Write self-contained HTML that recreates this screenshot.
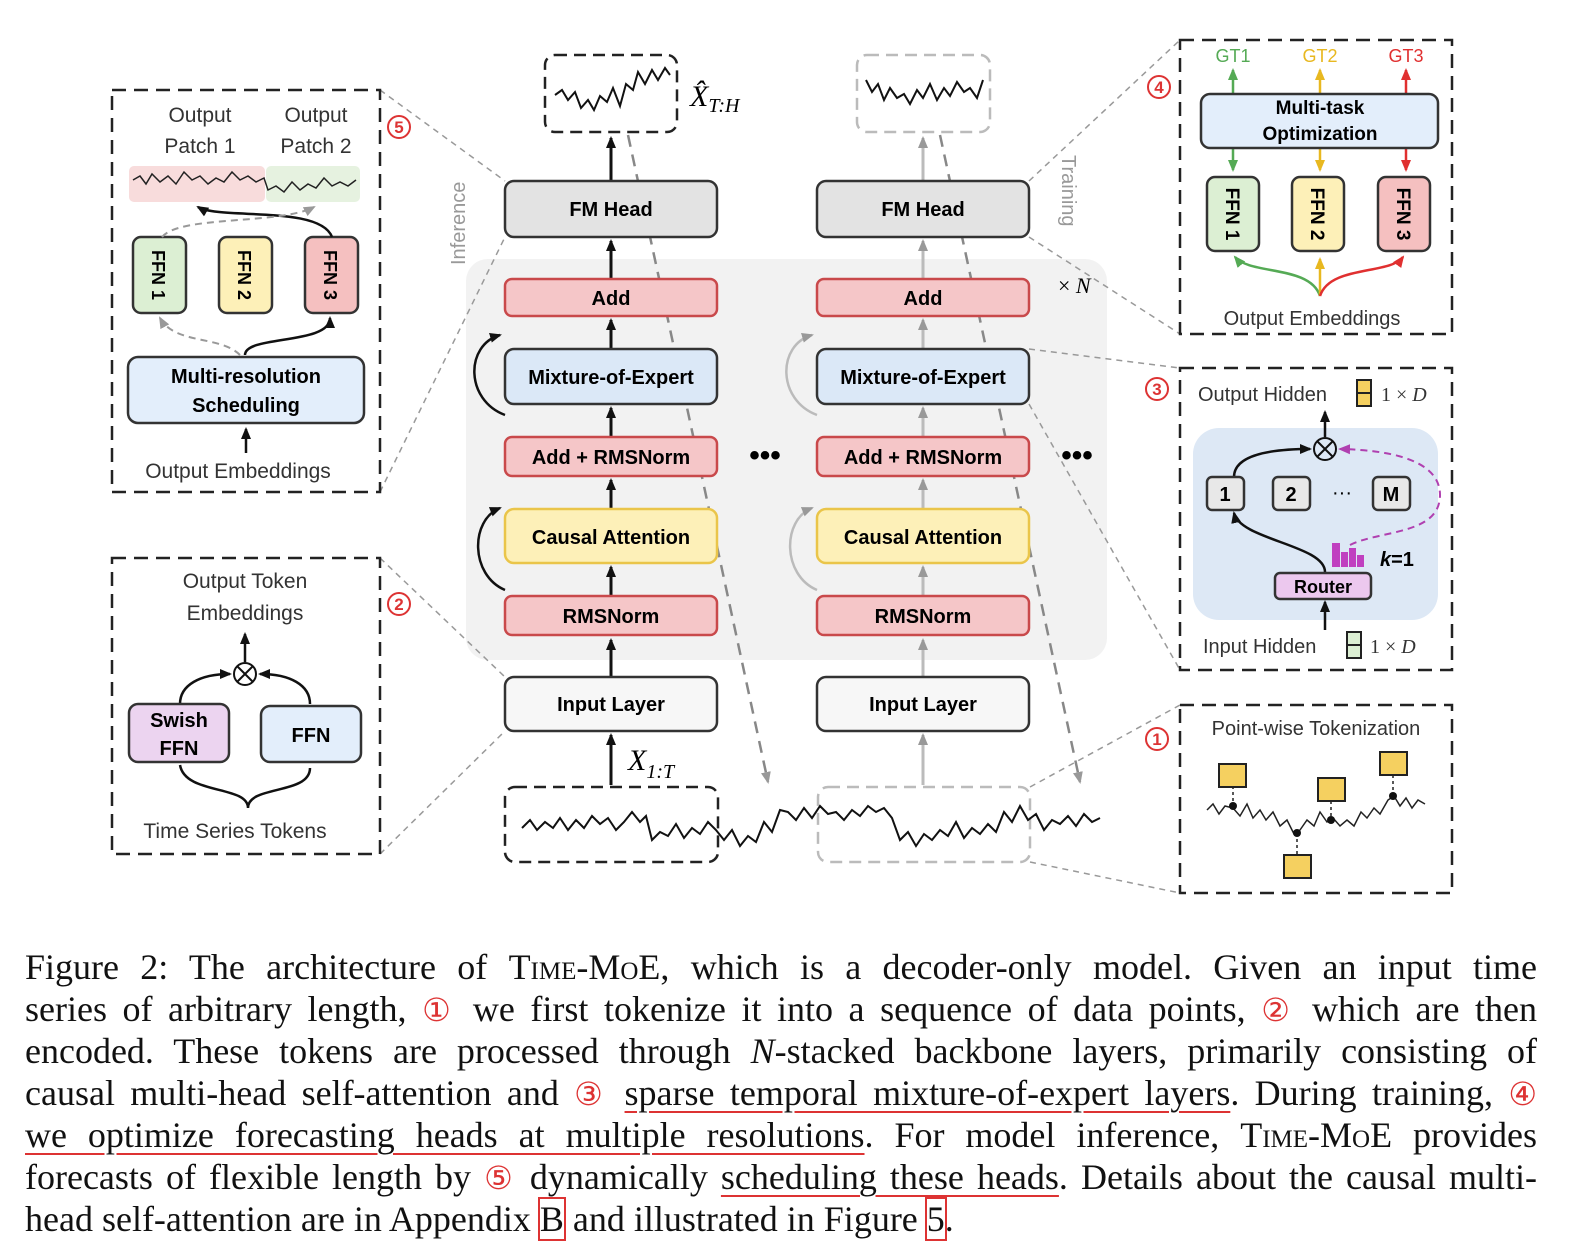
<!DOCTYPE html>
<html><head><meta charset="utf-8"><style>
body{margin:0;width:1580px;height:1245px;background:#fff;overflow:hidden;position:relative}
svg{position:absolute;left:0;top:0}
.cap{position:absolute;left:25px;width:1512px;font-family:"Liberation Serif",serif;font-size:36px;color:#111;white-space:nowrap}
.ln{height:42px;line-height:42px;text-align:justify;text-align-last:justify;white-space:normal;overflow:visible}
.ln.last{text-align-last:left}
.sc{font-variant:small-caps}
.u{text-decoration:underline;text-decoration-color:#d33;text-decoration-thickness:2px;text-underline-offset:6px}
.c{color:#d33;font-size:32px}
.bx{outline:2px solid #d33}
</style></head><body>
<svg width="1580" height="930" viewBox="0 0 1580 930" font-family="Liberation Sans, DejaVu Sans, sans-serif">
<defs>
<marker id="ak" markerUnits="userSpaceOnUse" markerWidth="12" markerHeight="12" refX="10" refY="6" orient="auto"><path d="M0,1 L12,6 L0,11 z" fill="#111"/></marker>
<marker id="ag" markerUnits="userSpaceOnUse" markerWidth="12" markerHeight="12" refX="10" refY="6" orient="auto"><path d="M0,1 L12,6 L0,11 z" fill="#999"/></marker>
<marker id="ap" markerUnits="userSpaceOnUse" markerWidth="12" markerHeight="12" refX="10" refY="6" orient="auto"><path d="M0,1 L12,6 L0,11 z" fill="#b040b0"/></marker>
<marker id="agr" markerUnits="userSpaceOnUse" markerWidth="12" markerHeight="12" refX="10" refY="6" orient="auto"><path d="M0,1 L12,6 L0,11 z" fill="#5a5"/></marker>
<marker id="ay" markerUnits="userSpaceOnUse" markerWidth="12" markerHeight="12" refX="10" refY="6" orient="auto"><path d="M0,1 L12,6 L0,11 z" fill="#e8b820"/></marker>
<marker id="ar" markerUnits="userSpaceOnUse" markerWidth="12" markerHeight="12" refX="10" refY="6" orient="auto"><path d="M0,1 L12,6 L0,11 z" fill="#e03030"/></marker>
</defs>
<rect x="466" y="259" width="641" height="401" rx="22" fill="#f2f2f2"/>
<g stroke="#999" stroke-width="1.5" stroke-dasharray="6,5" fill="none">
<line x1="380" y1="90" x2="505" y2="181"/><line x1="380" y1="492" x2="505" y2="237"/>
<line x1="380" y1="558" x2="505" y2="677"/><line x1="380" y1="854" x2="505" y2="731"/>
<line x1="1029" y1="181" x2="1180" y2="40"/><line x1="1029" y1="237" x2="1180" y2="334"/>
<line x1="1029" y1="349" x2="1180" y2="368"/><line x1="1029" y1="404" x2="1180" y2="670"/>
<line x1="1030" y1="787" x2="1180" y2="705"/><line x1="1030" y1="862" x2="1180" y2="893"/>
</g>
<g stroke="#888" stroke-width="2.5" stroke-dasharray="12,8" fill="none">
<line x1="628" y1="135" x2="768" y2="782" marker-end="url(#ag)"/>
<line x1="940" y1="135" x2="1080" y2="782" marker-end="url(#ag)"/>
</g>
<text x="465" y="265" transform="rotate(-90 465 265)" font-size="20" fill="#999">Inference</text>
<text x="1062" y="155" transform="rotate(90 1062 155)" font-size="20" fill="#999">Training</text>
<g stroke="#111" stroke-width="3" marker-end="url(#ak)">
<line x1="611" y1="785" x2="611" y2="735"/><line x1="611" y1="677" x2="611" y2="640"/>
<line x1="611" y1="596" x2="611" y2="567"/><line x1="611" y1="509" x2="611" y2="480"/>
<line x1="611" y1="437" x2="611" y2="408"/><line x1="611" y1="349" x2="611" y2="320"/>
<line x1="611" y1="279" x2="611" y2="241"/><line x1="611" y1="181" x2="611" y2="138"/>
</g>
<g stroke="#bbb" stroke-width="3" marker-end="url(#ag)">
<line x1="923" y1="785" x2="923" y2="735"/><line x1="923" y1="677" x2="923" y2="640"/>
<line x1="923" y1="596" x2="923" y2="567"/><line x1="923" y1="509" x2="923" y2="480"/>
<line x1="923" y1="437" x2="923" y2="408"/><line x1="923" y1="349" x2="923" y2="320"/>
<line x1="923" y1="279" x2="923" y2="241"/><line x1="923" y1="181" x2="923" y2="138"/>
</g>
<path d="M505,590 C470,575 470,520 500,508" stroke="#111" stroke-width="2.5" fill="none" marker-end="url(#ak)"/>
<path d="M505,415 C465,400 465,345 500,335" stroke="#111" stroke-width="2.5" fill="none" marker-end="url(#ak)"/>
<path d="M817,590 C782,575 782,520 812,508" stroke="#bbb" stroke-width="2.5" fill="none" marker-end="url(#ag)"/>
<path d="M817,415 C777,400 777,345 812,335" stroke="#bbb" stroke-width="2.5" fill="none" marker-end="url(#ag)"/>
<g stroke-width="2.5" font-weight="bold" font-size="20" text-anchor="middle">
<rect x="505" y="181" width="212" height="56" rx="9" fill="#e3e3e3" stroke="#333"/><text x="611" y="216">FM Head</text>
<rect x="505" y="279" width="212" height="37" rx="7" fill="#f5c6c8" stroke="#c9494b"/><text x="611" y="305">Add</text>
<rect x="505" y="349" width="212" height="55" rx="9" fill="#dbe8f7" stroke="#333"/><text x="611" y="384">Mixture-of-Expert</text>
<rect x="505" y="437" width="212" height="39" rx="7" fill="#f5c6c8" stroke="#c9494b"/><text x="611" y="464">Add + RMSNorm</text>
<rect x="505" y="509" width="212" height="54" rx="9" fill="#fdf0b8" stroke="#eac54a"/><text x="611" y="544">Causal Attention</text>
<rect x="505" y="596" width="212" height="39" rx="7" fill="#f5c6c8" stroke="#c9494b"/><text x="611" y="623">RMSNorm</text>
<rect x="505" y="677" width="212" height="54" rx="9" fill="#f7f7f7" stroke="#333"/><text x="611" y="711">Input Layer</text>
<rect x="817" y="181" width="212" height="56" rx="9" fill="#e3e3e3" stroke="#333"/><text x="923" y="216">FM Head</text>
<rect x="817" y="279" width="212" height="37" rx="7" fill="#f5c6c8" stroke="#c9494b"/><text x="923" y="305">Add</text>
<rect x="817" y="349" width="212" height="55" rx="9" fill="#dbe8f7" stroke="#333"/><text x="923" y="384">Mixture-of-Expert</text>
<rect x="817" y="437" width="212" height="39" rx="7" fill="#f5c6c8" stroke="#c9494b"/><text x="923" y="464">Add + RMSNorm</text>
<rect x="817" y="509" width="212" height="54" rx="9" fill="#fdf0b8" stroke="#eac54a"/><text x="923" y="544">Causal Attention</text>
<rect x="817" y="596" width="212" height="39" rx="7" fill="#f5c6c8" stroke="#c9494b"/><text x="923" y="623">RMSNorm</text>
<rect x="817" y="677" width="212" height="54" rx="9" fill="#f7f7f7" stroke="#333"/><text x="923" y="711">Input Layer</text>
</g>
<text x="765" y="465" font-size="30" font-weight="bold" text-anchor="middle">•••</text>
<text x="1077" y="465" font-size="30" font-weight="bold" text-anchor="middle">•••</text>
<text x="1058" y="293" font-size="22" font-family="Liberation Serif">× <tspan font-style="italic">N</tspan></text>
<rect x="545" y="55" width="132" height="77" rx="10" fill="none" stroke="#222" stroke-width="2.5" stroke-dasharray="12,7"/>
<rect x="857" y="55" width="133" height="77" rx="10" fill="none" stroke="#bbb" stroke-width="2.5" stroke-dasharray="12,7"/>
<rect x="505" y="787" width="213" height="75" rx="10" fill="none" stroke="#222" stroke-width="2.5" stroke-dasharray="12,7"/>
<rect x="818" y="787" width="212" height="75" rx="10" fill="none" stroke="#bbb" stroke-width="2.5" stroke-dasharray="12,7"/>
<g stroke="#111" stroke-width="2" fill="none">
<polyline points="555,95 562,90 568,100 575,92 581,108 588,100 594,110 600,96 607,102 613,88 620,106 626,84 633,90 638,72 645,84 652,70 658,80 665,68 670,75"/>
<polyline points="866,80 872,92 878,84 884,100 890,88 897,98 904,94 910,104 917,90 923,98 930,84 937,100 944,88 950,96 957,82 964,92 970,88 977,98 983,80"/>
<polyline points="522,828 530,820 537,830 545,822 553,828 560,818 568,830 576,820 584,828 592,816 600,824 608,818 616,830 624,822 632,812 640,822 646,816 652,840 660,832 668,836 676,824 684,838 692,828 700,834 708,822 716,830 724,840 732,830 740,846 748,836 756,842 764,822 772,832 780,810 788,812 796,820 804,808 812,818 820,806 828,814 836,812 844,820 852,810 860,816 868,806 876,812 884,808 892,818 900,840 908,832 916,846 924,834 932,840 940,830 948,836 956,822 964,838 972,828 980,834 988,824 996,832 1004,812 1012,822 1020,806 1028,820 1036,814 1044,830 1052,820 1060,824 1068,816 1076,826 1084,814 1092,822 1100,818"/>
</g>
<text x="690" y="106" font-family="Liberation Serif" font-style="italic" font-size="30">X̂<tspan font-size="20" dy="6">T:H</tspan></text>
<text x="628" y="770" font-family="Liberation Serif" font-style="italic" font-size="30">X<tspan font-size="20" dy="8">1:T</tspan></text>
<g font-size="17" font-weight="bold" fill="#d33" text-anchor="middle">
<circle cx="399" cy="127" r="11" fill="none" stroke="#d33" stroke-width="2"/><text x="399" y="133">5</text>
<circle cx="399" cy="604" r="11" fill="none" stroke="#d33" stroke-width="2"/><text x="399" y="610">2</text>
<circle cx="1159" cy="87" r="11" fill="none" stroke="#d33" stroke-width="2"/><text x="1159" y="93">4</text>
<circle cx="1157" cy="389" r="11" fill="none" stroke="#d33" stroke-width="2"/><text x="1157" y="395">3</text>
<circle cx="1157" cy="739" r="11" fill="none" stroke="#d33" stroke-width="2"/><text x="1157" y="745">1</text>
</g>
<g fill="none" stroke="#222" stroke-width="2.5" stroke-dasharray="14,8">
<rect x="112" y="90" width="268" height="402"/><rect x="112" y="558" width="268" height="296"/>
<rect x="1180" y="40" width="272" height="294"/><rect x="1180" y="368" width="272" height="302"/>
<rect x="1180" y="705" width="272" height="188"/>
</g>
<g font-size="21" fill="#333" text-anchor="middle">
<text x="200" y="122">Output</text><text x="200" y="153">Patch 1</text>
<text x="316" y="122">Output</text><text x="316" y="153">Patch 2</text>
<text x="238" y="478">Output Embeddings</text>
</g>
<rect x="129" y="166" width="136" height="36" rx="5" fill="#f8dcdc"/><rect x="266" y="166" width="94" height="36" rx="5" fill="#e6f2e0"/>
<polyline fill="none" stroke="#222" stroke-width="1.5" points="133,180 140,176 146,184 152,174 160,182 168,176 176,184 184,172 192,180 200,176 208,184 216,178 224,182 232,172 240,180 248,176 256,182 264,178 268,190 276,186 284,192 292,182 300,190 308,184 316,188 324,178 332,186 340,182 348,186 356,180"/>
<g stroke-width="2.5" font-weight="bold" font-size="18">
<rect x="133" y="237" width="53" height="76" rx="8" fill="#dcefd3" stroke="#333"/>
<rect x="219" y="237" width="53" height="76" rx="8" fill="#fdf0b8" stroke="#333"/>
<rect x="305" y="237" width="53" height="76" rx="8" fill="#f5c0c0" stroke="#333"/>
<text transform="translate(152,275) rotate(90)" text-anchor="middle">FFN 1</text>
<text transform="translate(238,275) rotate(90)" text-anchor="middle">FFN 2</text>
<text transform="translate(324,275) rotate(90)" text-anchor="middle">FFN 3</text>
<rect x="128" y="357" width="236" height="66" rx="10" fill="#e3eefb" stroke="#333"/>
<text x="246" y="383" font-size="20" text-anchor="middle">Multi-resolution</text>
<text x="246" y="412" font-size="20" text-anchor="middle">Scheduling</text>
</g>
<path d="M245,355 C245,335 330,345 330,318" stroke="#111" stroke-width="2.5" fill="none" marker-end="url(#ak)"/>
<path d="M240,355 C220,335 175,345 160,318" stroke="#999" stroke-width="2" stroke-dasharray="7,5" fill="none" marker-end="url(#ag)"/>
<path d="M332,237 C320,205 220,220 198,207" stroke="#111" stroke-width="2.5" fill="none" marker-end="url(#ak)"/>
<path d="M162,237 C180,215 280,225 314,207" stroke="#999" stroke-width="2" stroke-dasharray="7,5" fill="none" marker-end="url(#ag)"/>
<line x1="246" y1="453" x2="246" y2="429" stroke="#111" stroke-width="2.5" marker-end="url(#ak)"/>
<g font-size="21" fill="#333" text-anchor="middle">
<text x="245" y="588">Output Token</text><text x="245" y="620">Embeddings</text>
<text x="235" y="838">Time Series Tokens</text>
</g>
<circle cx="245" cy="674" r="11" fill="#fff" stroke="#111" stroke-width="2"/>
<path d="M237,666 L253,682 M253,666 L237,682" stroke="#111" stroke-width="2"/>
<line x1="245" y1="662" x2="245" y2="634" stroke="#111" stroke-width="2.5" marker-end="url(#ak)"/>
<path d="M180,704 C180,685 200,674 230,674" stroke="#111" stroke-width="2.5" fill="none" marker-end="url(#ak)"/>
<path d="M310,704 C310,685 290,674 260,674" stroke="#111" stroke-width="2.5" fill="none" marker-end="url(#ak)"/>
<path d="M248,808 C248,785 185,795 180,765 M248,808 C248,785 310,795 310,768" stroke="#111" stroke-width="2.5" fill="none"/>
<g stroke-width="2.5" font-weight="bold" font-size="20" text-anchor="middle">
<rect x="129" y="704" width="100" height="58" rx="9" fill="#ecd4f0" stroke="#333"/><text x="179" y="727">Swish</text><text x="179" y="755">FFN</text>
<rect x="261" y="706" width="100" height="56" rx="9" fill="#e3eefb" stroke="#333"/><text x="311" y="742">FFN</text>
</g>
<g font-size="18" text-anchor="middle">
<text x="1233" y="62" fill="#5a5">GT1</text><text x="1320" y="62" fill="#e8b820">GT2</text><text x="1406" y="62" fill="#e03030">GT3</text>
<text x="1312" y="325" fill="#333" font-size="20">Output Embeddings</text>
</g>
<line x1="1233" y1="94" x2="1233" y2="70" stroke="#5a5" stroke-width="2.5" marker-end="url(#agr)"/>
<line x1="1320" y1="94" x2="1320" y2="70" stroke="#e8b820" stroke-width="2.5" marker-end="url(#ay)"/>
<line x1="1406" y1="94" x2="1406" y2="70" stroke="#e03030" stroke-width="2.5" marker-end="url(#ar)"/>
<line x1="1233" y1="148" x2="1233" y2="170" stroke="#5a5" stroke-width="2.5" marker-end="url(#agr)"/>
<line x1="1320" y1="148" x2="1320" y2="170" stroke="#e8b820" stroke-width="2.5" marker-end="url(#ay)"/>
<line x1="1406" y1="148" x2="1406" y2="170" stroke="#e03030" stroke-width="2.5" marker-end="url(#ar)"/>
<path d="M1320,296 C1310,265 1250,275 1235,257" stroke="#5a5" stroke-width="2.5" fill="none" marker-end="url(#agr)"/>
<line x1="1320" y1="296" x2="1320" y2="259" stroke="#e8b820" stroke-width="2.5" marker-end="url(#ay)"/>
<path d="M1320,296 C1330,265 1390,275 1403,257" stroke="#e03030" stroke-width="2.5" fill="none" marker-end="url(#ar)"/>
<g stroke-width="2.5" font-weight="bold" font-size="19">
<rect x="1201" y="94" width="237" height="54" rx="9" fill="#e3eefb" stroke="#333"/>
<text x="1320" y="114" text-anchor="middle">Multi-task</text><text x="1320" y="140" text-anchor="middle">Optimization</text>
<rect x="1207" y="177" width="52" height="74" rx="8" fill="#dcefd3" stroke="#333"/>
<rect x="1292" y="177" width="52" height="74" rx="8" fill="#fdf0b8" stroke="#333"/>
<rect x="1378" y="177" width="52" height="74" rx="8" fill="#f5c0c0" stroke="#333"/>
<text transform="translate(1226,214) rotate(90)" text-anchor="middle">FFN 1</text>
<text transform="translate(1311,214) rotate(90)" text-anchor="middle">FFN 2</text>
<text transform="translate(1397,214) rotate(90)" text-anchor="middle">FFN 3</text>
</g>
<rect x="1193" y="428" width="245" height="192" rx="26" fill="#dde8f5"/>
<g font-size="20" fill="#333">
<text x="1198" y="401">Output Hidden</text><text x="1203" y="653">Input Hidden</text>
<text x="1381" y="401" font-family="Liberation Serif">1 × <tspan font-style="italic">D</tspan></text>
<text x="1370" y="653" font-family="Liberation Serif">1 × <tspan font-style="italic">D</tspan></text>
</g>
<rect x="1357" y="380" width="14" height="26" fill="#f5d060" stroke="#222" stroke-width="2"/><line x1="1357" y1="393" x2="1371" y2="393" stroke="#222" stroke-width="2"/>
<rect x="1347" y="632" width="14" height="26" fill="#dcefd3" stroke="#222" stroke-width="2"/><line x1="1347" y1="645" x2="1361" y2="645" stroke="#222" stroke-width="2"/>
<circle cx="1325" cy="449" r="11" fill="none" stroke="#111" stroke-width="2"/>
<path d="M1317,441 L1333,457 M1333,441 L1317,457" stroke="#111" stroke-width="2"/>
<line x1="1325" y1="437" x2="1325" y2="412" stroke="#111" stroke-width="2.5" marker-end="url(#ak)"/>
<path d="M1234,477 C1234,455 1270,449 1310,449" stroke="#111" stroke-width="2.5" fill="none" marker-end="url(#ak)"/>
<path d="M1325,572 C1325,545 1240,540 1234,513" stroke="#111" stroke-width="2.5" fill="none" marker-end="url(#ak)"/>
<path d="M1350,545 C1380,530 1440,535 1440,495 C1440,460 1390,450 1340,449" stroke="#b040b0" stroke-width="2" stroke-dasharray="7,5" fill="none" marker-end="url(#ap)"/>
<line x1="1325" y1="630" x2="1325" y2="602" stroke="#111" stroke-width="2.5" marker-end="url(#ak)"/>
<g stroke-width="2.5" font-weight="bold" font-size="20" text-anchor="middle">
<rect x="1207" y="477" width="37" height="33" rx="5" fill="#e8e8e8" stroke="#333"/><text x="1225" y="501">1</text>
<rect x="1273" y="477" width="37" height="33" rx="5" fill="#e8e8e8" stroke="#333"/><text x="1291" y="501">2</text>
<rect x="1373" y="477" width="37" height="33" rx="5" fill="#e8e8e8" stroke="#333"/><text x="1391" y="501">M</text>
<text x="1342" y="499" font-weight="normal">···</text>
<rect x="1275" y="573" width="96" height="26" rx="5" fill="#ecc8ee" stroke="#333"/><text x="1323" y="593" font-size="18">Router</text>
</g>
<g fill="#c040c0"><rect x="1332" y="543" width="8" height="24"/><rect x="1341" y="552" width="7" height="15"/><rect x="1349" y="548" width="7" height="19"/><rect x="1357" y="555" width="7" height="12"/></g>
<text x="1380" y="566" font-size="20" font-weight="bold"><tspan font-style="italic">k</tspan>=1</text>
<text x="1316" y="735" font-size="20" fill="#333" text-anchor="middle">Point-wise Tokenization</text>
<polyline fill="none" stroke="#222" stroke-width="1.5" points="1207,810 1213,804 1219,814 1225,806 1233,808 1240,816 1247,804 1253,818 1260,810 1266,820 1273,812 1280,826 1287,820 1294,834 1300,830 1307,820 1314,826 1320,812 1327,822 1333,818 1340,826 1347,820 1354,826 1361,812 1367,818 1374,808 1380,814 1388,800 1394,796 1400,806 1406,798 1412,808 1418,800 1425,804"/>
<g stroke="#222" stroke-width="1.5" stroke-dasharray="3,3"><line x1="1233" y1="786" x2="1233" y2="806"/><line x1="1331" y1="801" x2="1331" y2="820"/><line x1="1393" y1="775" x2="1393" y2="796"/><line x1="1297" y1="833" x2="1297" y2="855"/></g>
<g fill="#111"><circle cx="1233" cy="806" r="4"/><circle cx="1331" cy="820" r="4"/><circle cx="1393" cy="796" r="4"/><circle cx="1297" cy="833" r="4"/></g>
<g fill="#f5d060" stroke="#222" stroke-width="2"><rect x="1219" y="764" width="27" height="23"/><rect x="1318" y="778" width="27" height="23"/><rect x="1380" y="752" width="27" height="23"/><rect x="1284" y="855" width="27" height="23"/></g>
</svg>
<div class="cap" style="top:946px">
<div class="ln">Figure 2: The architecture of <span class="sc">Time-MoE</span>, which is a decoder-only model. Given an input time</div>
<div class="ln">series of arbitrary length, <span class="c">①</span> we first tokenize it into a sequence of data points, <span class="c">②</span> which are then</div>
<div class="ln">encoded. These tokens are processed through <i>N</i>-stacked backbone layers, primarily consisting of</div>
<div class="ln">causal multi-head self-attention and <span class="c">③</span> <span class="u">sparse temporal mixture-of-expert layers</span>. During training, <span class="c">④</span></div>
<div class="ln"><span class="u">we optimize forecasting heads at multiple resolutions</span>. For model inference, <span class="sc">Time-MoE</span> provides</div>
<div class="ln">forecasts of flexible length by <span class="c">⑤</span> dynamically <span class="u">scheduling these heads</span>. Details about the causal multi-</div>
<div class="ln last">head self-attention are in Appendix <span class="bx">B</span> and illustrated in Figure <span class="bx">5</span>.</div>
</div>
</body></html>
